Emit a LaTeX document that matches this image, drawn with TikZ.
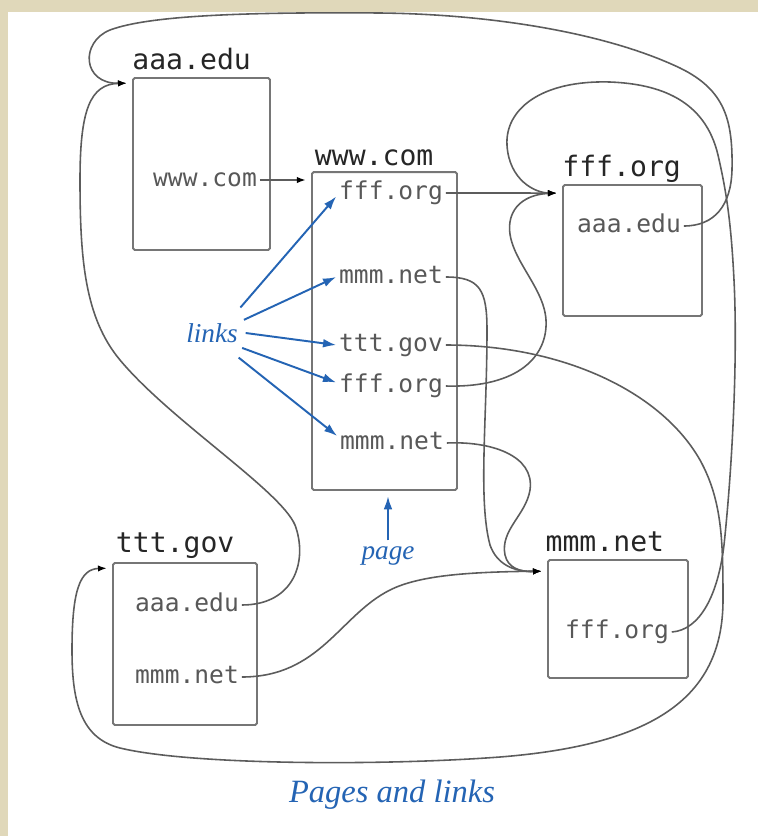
\documentclass[tikz,border=0pt]{standalone}
\usepackage{fontspec}
\setmonofont{DejaVu Sans Mono}
\newfontfamily\notefont{Liberation Serif}
\usepackage{xcolor}
\usepackage{tikz}
\usetikzlibrary{arrows.meta, positioning, calc}

\definecolor{framebeige}{RGB}{224,216,186}
\definecolor{boxgray}{RGB}{118,118,118}
\definecolor{linkgray}{RGB}{92,92,92}
\definecolor{urlgray}{RGB}{88,88,88}
\definecolor{labelblue}{RGB}{36,100,180}

\begin{document}
\begin{tikzpicture}[x=0.02cm, y=-0.02cm,
    pagebox/.style={rectangle, draw=boxgray, line width=1.1pt, rounded corners=1pt},
    pagename/.style={font=\ttfamily\fontsize{16}{18}\selectfont, text=black!85, inner sep=0pt, text depth=0pt},
    url/.style={font=\ttfamily\fontsize{14}{16}\selectfont, text=urlgray, inner sep=1.5pt, text height=7.5pt, text depth=0pt},
    note/.style={font=\notefont\itshape\fontsize{15.5}{18}\selectfont, text=labelblue},
    link/.style={draw=linkgray, line width=0.9pt, shorten >=3pt, -{Latex[length=5pt,width=3.6pt,color=black]}},
    pointer/.style={draw=labelblue, line width=1.1pt, -{Latex[length=7.5pt,width=5pt]}}]
        \fill[white] (0,0) rectangle (758,836);
        \fill[framebeige] (0,0) rectangle (758,12);
        \fill[framebeige] (0,0) rectangle (8,836);
        \useasboundingbox (0,0) rectangle (758,836);

        % pages
        \node[pagebox, minimum width=2.74cm, minimum height=3.44cm] (aaa) at (201.5,164) {};
        \node[pagebox, minimum width=2.9cm, minimum height=6.36cm] (www) at (384.5,331) {};
        \node[pagebox, minimum width=2.78cm, minimum height=2.62cm] (fff) at (632.5,250.5) {};
        \node[pagebox, minimum width=2.88cm, minimum height=3.24cm] (ttt) at (185,644) {};
        \node[pagebox, minimum width=2.8cm, minimum height=2.36cm] (mmm) at (618,619) {};

        \node[pagename, above right=4pt and 0pt of aaa.north west] (aaaname) {aaa.edu};
        \node[pagename, above right=3pt and 2pt of www.north west] (wwwname) {www.com};
        \node[pagename, above right=4pt and 0pt of fff.north west] (fffname) {fff.org};
        \node[pagename, above right=5pt and 2pt of ttt.north west] (tttname) {ttt.gov};
        \node[pagename, above right=4pt and -1pt of mmm.north west] (mmmname) {mmm.net};

        % links on each page
        \node[url] (a1) at (205,180) {www.com};
        \node[url] (w1) at (391,193) {fff.org};
        \node[url] (w2) at (391,277) {mmm.net};
        \node[url] (w3) at (391,345) {ttt.gov};
        \node[url] (w4) at (391,386) {fff.org};
        \node[url] (w5) at (392,443) {mmm.net};
        \node[url] (f1) at (629,226) {aaa.edu};
        \node[url] (t1) at (187,605) {aaa.edu};
        \node[url] (t2) at (187,677) {mmm.net};
        \node[url] (m1) at (617,632) {fff.org};

        \coordinate (aaain) at ($(aaa.north west)+(0,6)$);
        \coordinate (fffin) at ($(fff.north west)+(0,9)$);
        \coordinate (mmmin) at ($(mmm.north west)+(0,12)$);
        \coordinate (tttin) at ($(ttt.north west)+(0,6)$);

        \draw[link] (a1.east) -- (a1.east -| www.west);
        \draw[link] (w1.east) -- (fffin);
        \draw[link] (w4.east) .. controls (520,388) and (548,355) .. (546,320)
            .. controls (544,285) and (505,255) .. (510,222)
            .. controls (513,203) and (530,194) .. (fffin);
        \draw[link] (m1.east) .. controls (700,630) and (718,595) .. (724,545)
            .. controls (732,470) and (738,360) .. (734,280)
            .. controls (731,220) and (726,190) .. (718,155)
            .. controls (705,100) and (660,84) .. (610,82)
            .. controls (540,80) and (505,110) .. (507,145)
            .. controls (509,180) and (535,193) .. (fffin);
        \draw[link] (f1.east) .. controls (715,226) and (731,205) .. (732,170)
            .. controls (733,120) and (725,90) .. (680,68)
            .. controls (600,30) and (480,14) .. (380,13)
            .. controls (250,12) and (150,15) .. (110,30)
            .. controls (80,42) and (82,84) .. (aaain);
        \draw[link] (t1.east) .. controls (295,605) and (308,560) .. (295,525)
            .. controls (280,490) and (170,420) .. (120,360)
            .. controls (85,318) and (80,260) .. (80,180)
            .. controls (80,110) and (90,84) .. (aaain);
        \draw[link] (w2.east) .. controls (480,277) and (487,290) .. (487,330)
            .. controls (487,420) and (478,500) .. (490,545)
            .. controls (497,565) and (515,572) .. (mmmin);
        \draw[link] (w5.east) .. controls (490,441) and (535,455) .. (530,490)
            .. controls (526,515) and (500,530) .. (505,555)
            .. controls (508,568) and (520,572) .. (mmmin);
        \draw[link] (t2.east) .. controls (320,677) and (340,615) .. (390,590)
            .. controls (420,575) and (470,572) .. (mmmin);
        \draw[link] (w3.east) .. controls (560,345) and (660,390) .. (700,460)
            .. controls (722,500) and (723,540) .. (723,600)
            .. controls (723,700) and (650,745) .. (500,757)
            .. controls (380,766) and (190,765) .. (120,748)
            .. controls (80,738) and (72,700) .. (72,650)
            .. controls (72,590) and (80,569) .. (tttin);

        % labels
        \node[note] (links) at (212,333) {links};
        \node[note] (pagelbl) at (388,556) {page};
        \node[note, font=\notefont\itshape\fontsize{18.5}{21}\selectfont] (caption) at (392,795) {Pages and links};

        \draw[pointer] ([xshift=-2pt,yshift=14.5pt]links.east) -- ([yshift=-2pt]w1.west);
        \draw[pointer] ([yshift=7.5pt]links.east) -- (w2.west);
        \draw[pointer] ([xshift=1pt]links.east) -- (w3.west);
        \draw[pointer] ([xshift=-1pt,yshift=-8.5pt]links.east) -- ([yshift=2pt]w4.west);
        \draw[pointer] ([xshift=-3pt,yshift=-14pt]links.east) -- ([yshift=4pt]w5.west);
        \draw[pointer, shorten >=3pt] (pagelbl.north) -- (pagelbl.north |- www.south);
    \end{tikzpicture}
\end{document}
